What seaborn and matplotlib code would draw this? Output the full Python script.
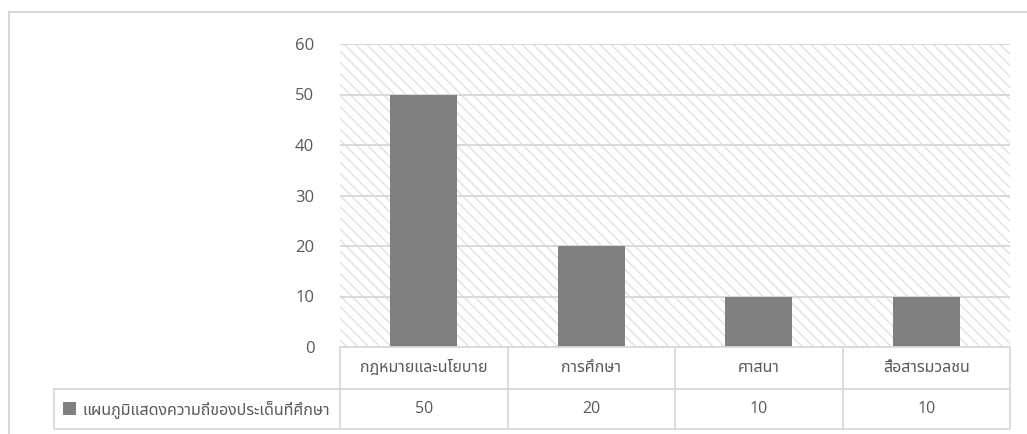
import matplotlib
matplotlib.use("Agg")
import matplotlib.pyplot as plt
import seaborn as sns
import pandas as pd
from matplotlib import font_manager as fm
from matplotlib.ft2font import FT2Font
from matplotlib.patches import Rectangle
from matplotlib.lines import Line2D
import matplotlib.transforms as mtransforms

categories = ["กฎหมายและนโยบาย", "การศึกษา", "ศาสนา", "สื่อสารมวลชน"]
values = [50, 20, 10, 10]
series_name = "แผนภูมิแสดงความถี่ของประเด็นที่ศึกษา"
yticks = [0, 10, 20, 30, 40, 50, 60]

sns.set_theme(style="white")

# find a font with Thai glyphs
thai_font = None
found = []
for f in fm.fontManager.ttflist:
    try:
        cm = FT2Font(f.fname).get_charmap()
    except Exception:
        continue
    if 0x0E01 in cm and 0x0E2A in cm:
        found.append(f.name)
found = sorted(set(found))
pref = ["Leelawadee UI", "Leelawadee", "Tahoma", "Noto Sans Thai", "Noto Sans Thai UI",
        "IBM Plex Sans Thai", "Sarabun", "Loma", "Garuda"]
for p in pref:
    if p in found:
        thai_font = p
        break
if thai_font is None and found:
    thai_font = found[0]

families = ["Open Sans"] + ([thai_font] if thai_font else []) + ["DejaVu Sans"]
plt.rcParams["font.family"] = families
plt.rcParams["hatch.linewidth"] = 0.9

TXT = "#595959"
GRID = "#d9d9d9"
BAR = "#808080"

W, H = 1027, 434
fig = plt.figure(figsize=(W / 100, H / 100), dpi=100)
ax_l, ax_r, ax_t, ax_b = 340, 1010, 44, 347
ax = fig.add_axes([ax_l / W, (H - ax_b) / H, (ax_r - ax_l) / W, (ax_b - ax_t) / H])

df = pd.DataFrame({"category": categories, "value": values})
sns.barplot(data=df, x="category", y="value", color=BAR, width=0.4,
            saturation=1, linewidth=0, edgecolor=BAR, ax=ax, zorder=3)

ax.set_xlim(-0.5, len(categories) - 0.5)
ax.set_ylim(0, 60)
ax.set_yticks(yticks)
ax.set_yticklabels([str(v) for v in yticks], fontsize=12, color=TXT)
ax.tick_params(axis="y", length=0, pad=18.5)
ax.set_xticks([])
ax.set_xlabel("")
ax.set_ylabel("")
for s in ax.spines.values():
    s.set_visible(False)

# hatched plot area
ax.patch.set_facecolor("white")
ax.patch.set_hatch("\\\\\\")
ax.patch.set_edgecolor("#dedede")
ax.patch.set_linewidth(0)

ax.yaxis.grid(True, color=GRID, linewidth=1.4, zorder=1)
ax.set_axisbelow(True)

# data table below the axes
axh = ax_b - ax_t
r1 = -(389 - ax_b) / axh
r2 = -(429 - ax_b) / axh
xh = (54 - ax_l) / (ax_r - ax_l)
bt = mtransforms.blended_transform_factory(ax.transData, ax.transAxes)
at = ax.transAxes
lw = 1.3
n = len(categories)

def line(xs, ys, tr):
    ax.add_line(Line2D(xs, ys, transform=tr, color=GRID, lw=lw, clip_on=False, zorder=5))

line([0, 1], [0, 0], at)
line([xh, 1], [r1, r1], at)
line([xh, 1], [r2, r2], at)
line([xh, xh], [r1, r2], at)
for b in range(n + 1):
    line([b - 0.5, b - 0.5], [0, r2], bt)

for i, (c, v) in enumerate(zip(categories, values)):
    ax.text(i, r1 / 2, c, transform=bt, ha="center", va="center",
            fontsize=11.5, color=TXT, clip_on=False)
    ax.text(i, (r1 + r2) / 2, str(v), transform=bt, ha="center", va="center",
            fontsize=11.5, color=TXT, clip_on=False)

# legend key + series name in table header cell
fig.patches.append(Rectangle((63 / W, 1 - 415 / H), 13 / W, 13 / H,
                             transform=fig.transFigure, facecolor=BAR,
                             edgecolor="none"))
fig.text(82 / W, 1 - 409 / H, series_name, ha="left", va="center",
         fontsize=11.5, color=TXT)

# outer chart border
fig.add_artist(Line2D([9 / W, 1], [1 - 12 / H, 1 - 12 / H], transform=fig.transFigure,
                      color=GRID, lw=1.5))
fig.add_artist(Line2D([9 / W, 9 / W], [0, 1 - 12 / H], transform=fig.transFigure,
                      color=GRID, lw=1.5))

fig.savefig("out.png", dpi=100)
